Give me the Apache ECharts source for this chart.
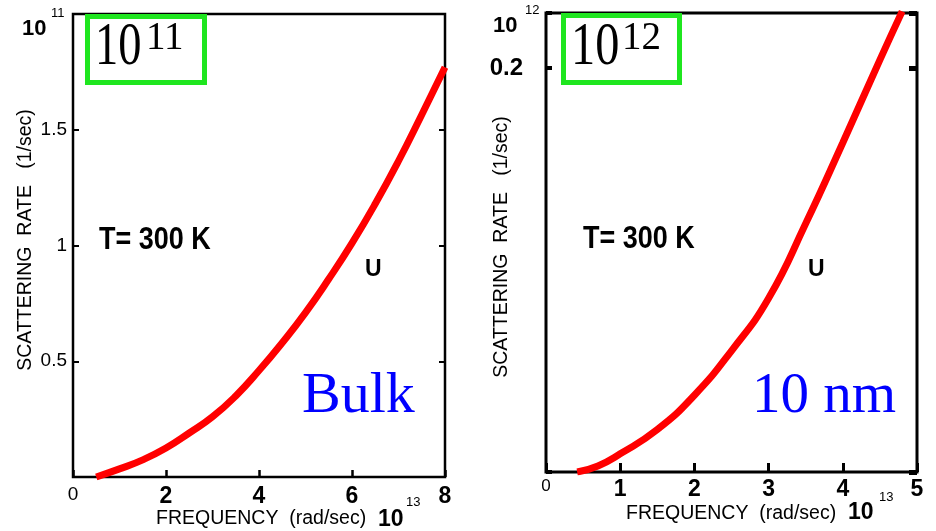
<!DOCTYPE html>
<html>
<head>
<meta charset="utf-8">
<script src="https://cdn.jsdelivr.net/npm/echarts@6/dist/echarts.min.js"></script>
<style>
html,body{margin:0;padding:0;background:#fff;}
#chart{width:936px;height:531px;}
</style>
</head>
<body>
<div id="chart"></div>
<script>
// ---- Data (frequency in 1e13 rad/s, rate in 1e11 / 1e12 1/s) ----
const bulkFreq = [0.5, 1, 1.5, 2, 2.5, 3, 3.5, 4, 4.5, 5, 5.5, 6, 6.5, 7, 7.5, 8];
const bulkRate = [0, 0.035, 0.074, 0.125, 0.19, 0.26, 0.35, 0.46, 0.58, 0.71, 0.855, 1.01, 1.18, 1.365, 1.565, 1.77];
const nmFreq = [0.42, 0.7, 1, 1.5, 2, 2.5, 3, 3.5, 4, 4.5, 4.8];
const nmRate = [0, 0.003, 0.009, 0.021, 0.038, 0.06, 0.086, 0.123, 0.163, 0.204, 0.228];

const leftXTickLabels = ['0', '2', '4', '6', '8'];
const leftYTickLabels = ['0.5', '1', '1.5'];
const rightXTickLabels = ['0', '1', '2', '3', '4', '5'];
const rightYTickLabels = ['0.2'];

const SANS = 'Liberation Sans, Arial, Helvetica, sans-serif';
const SERIF = 'Liberation Serif, Times New Roman, serif';

const bulkData = bulkFreq.map((f, i) => [f, bulkRate[i]]);
const nmData = nmFreq.map((f, i) => [f, nmRate[i]]);

function txt(x, y, text, font, opts) {
  opts = opts || {};
  return {
    type: 'text', x: x, y: y, z: 100,
    scaleX: opts.scaleX || 1,
    scaleY: opts.scaleY || 1,
    rotation: opts.rotation || 0,
    style: {
      text: text, font: font, fill: opts.fill || '#000',
      textAlign: opts.align || 'left', textVerticalAlign: opts.valign || 'middle'
    }
  };
}

const chart = echarts.init(document.getElementById('chart'), null, {renderer: 'canvas'});
const option = {
  backgroundColor: '#fff',
  animation: false,
  grid: [
    {left: 73, top: 14, width: 372, height: 463, show: true, borderColor: '#000', borderWidth: 2.5, backgroundColor: 'transparent'},
    {left: 546, top: 13, width: 371, height: 459, show: true, borderColor: '#000', borderWidth: 3, backgroundColor: 'transparent'}
  ],
  xAxis: [
    {
      gridIndex: 0, type: 'value', min: 0, max: 8, interval: 2,
      axisLine: {show: false}, splitLine: {show: false},
      axisTick: {show: true, inside: true, length: 7, lineStyle: {color: '#000', width: 2.5}},
      axisLabel: {
        margin: 8,
        formatter: function (v) {
          const s = leftXTickLabels[Math.round(v / 2)];
          return v === 0 ? '{n|' + s + '}' : '{b|' + s + '}';
        },
        rich: {
          n: {fontSize: 19, fontFamily: SANS, color: '#000', fontWeight: 'normal'},
          b: {fontSize: 23, fontFamily: SANS, color: '#000', fontWeight: 'bold'}
        }
      }
    },
    {
      gridIndex: 1, type: 'value', min: 0, max: 5, interval: 1,
      axisLine: {show: false}, splitLine: {show: false},
      axisTick: {show: true, inside: true, length: 9, lineStyle: {color: '#000', width: 3}},
      axisLabel: {
        margin: 6,
        formatter: function (v) {
          const s = rightXTickLabels[Math.round(v)];
          return v === 0 ? '{n|' + s + '}' : '{b|' + s + '}';
        },
        rich: {
          n: {fontSize: 17, fontFamily: SANS, color: '#000', fontWeight: 'normal'},
          b: {fontSize: 23, fontFamily: SANS, color: '#000', fontWeight: 'bold'}
        }
      }
    }
  ],
  yAxis: [
    {
      gridIndex: 0, type: 'value', min: 0, max: 2, interval: 0.5,
      axisLine: {show: false}, splitLine: {show: false},
      axisTick: {show: true, inside: true, length: 6, lineStyle: {color: '#000', width: 2}},
      axisLabel: {
        margin: 6, fontSize: 19, fontFamily: SANS, color: '#000',
        formatter: function (v) {
          const i = Math.round(v / 0.5) - 1;
          return (i >= 0 && i < leftYTickLabels.length) ? leftYTickLabels[i] : '';
        }
      }
    },
    {
      gridIndex: 0, type: 'value', min: 0, max: 2, interval: 0.5, position: 'right',
      axisLine: {show: false}, splitLine: {show: false}, axisLabel: {show: false},
      axisTick: {show: true, inside: true, length: 6, lineStyle: {color: '#000', width: 2}}
    },
    {
      gridIndex: 1, type: 'value', min: 0, max: 0.2272, interval: 0.2,
      axisLine: {show: false}, splitLine: {show: false},
      axisTick: {show: true, inside: true, length: 6, lineStyle: {color: '#000', width: 4}},
      axisLabel: {
        margin: 23, fontSize: 24, fontWeight: 'bold', fontFamily: SANS, color: '#000',
        formatter: function (v) {
          return Math.abs(v - 0.2) < 1e-6 ? rightYTickLabels[0] : '';
        }
      }
    },
    {
      gridIndex: 1, type: 'value', min: 0, max: 0.2272, interval: 0.2, position: 'right',
      axisLine: {show: false}, splitLine: {show: false}, axisLabel: {show: false},
      axisTick: {show: true, inside: true, length: 8, lineStyle: {color: '#000', width: 5}}
    }
  ],
  series: [
    {
      type: 'line', xAxisIndex: 0, yAxisIndex: 0, data: bulkData, smooth: 0.5,
      showSymbol: false, clip: true,
      lineStyle: {color: '#ff0000', width: 7}
    },
    {
      type: 'line', xAxisIndex: 1, yAxisIndex: 2, data: nmData, smooth: 0.5,
      showSymbol: false, clip: true,
      lineStyle: {color: '#ff0000', width: 7}
    }
  ],
  graphic: [
    // green boxes
    {type: 'rect', z: 90, shape: {x: 87.5, y: 16.5, width: 117, height: 66}, style: {fill: 'none', stroke: '#1fe61f', lineWidth: 5}},
    {type: 'rect', z: 90, shape: {x: 563.5, y: 15.5, width: 116, height: 67}, style: {fill: 'none', stroke: '#1fe61f', lineWidth: 5}},
    txt(95, 48, '10', '62px ' + SERIF, {scaleX: 0.75}),
    txt(146, 39, '11', '39px ' + SERIF),
    txt(571, 48, '10', '62px ' + SERIF, {scaleX: 0.78}),
    txt(622, 39, '12', '39px ' + SERIF),
    // y top labels
    txt(22, 29, '10', 'bold 22px ' + SANS),
    txt(51, 13, '11', '13px ' + SANS),
    txt(493, 26, '10', 'bold 22px ' + SANS),
    txt(525, 10, '12', '13px ' + SANS),
    // annotations
    txt(99, 240, 'T= 300 K', 'bold 31px ' + SANS, {scaleX: 0.87}),
    txt(583, 239, 'T= 300 K', 'bold 31px ' + SANS, {scaleX: 0.87}),
    txt(365, 270, 'U', 'bold 23px ' + SANS),
    txt(808, 270, 'U', 'bold 23px ' + SANS),
    txt(302, 397, 'Bulk', '58px ' + SERIF, {fill: '#0000ff'}),
    txt(752, 397, '10 nm', '57px ' + SERIF, {fill: '#0000ff'}),
    // axis titles
    txt(156, 519, 'FREQUENCY  (rad/sec)', '19.5px ' + SANS),
    txt(378, 520, '10', 'bold 23px ' + SANS),
    txt(406, 502, '13', '13px ' + SANS),
    txt(626, 514, 'FREQUENCY  (rad/sec)', '19.5px ' + SANS),
    txt(848, 513, '10', 'bold 23px ' + SANS),
    txt(879, 497, '13', '13px ' + SANS),
    txt(26, 240, 'SCATTERING  RATE   (1/sec)', '19.5px ' + SANS, {rotation: Math.PI / 2, align: 'center'}),
    txt(502, 247, 'SCATTERING  RATE   (1/sec)', '19.5px ' + SANS, {rotation: Math.PI / 2, align: 'center'})
  ]
};
chart.setOption(option);
</script>
</body>
</html>
